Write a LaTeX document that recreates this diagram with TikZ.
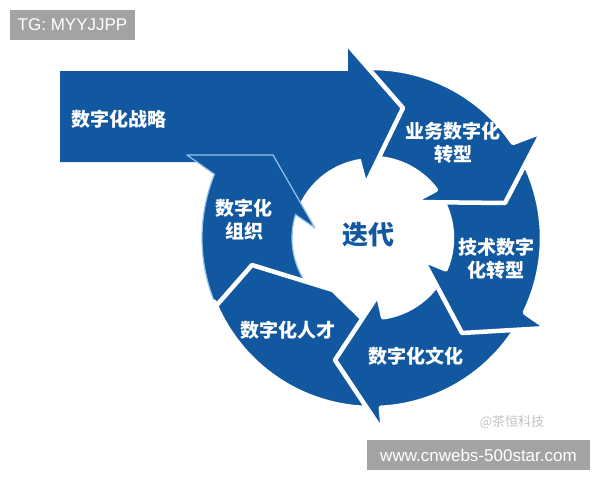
\documentclass[tikz,border=0pt]{standalone}
\usepackage{fontspec}
\setmainfont{Liberation Sans}
\newfontfamily\cjk{Noto Sans CJK SC}
\usetikzlibrary{calc}
\definecolor{ringblue}{RGB}{18,88,160}
\definecolor{boxgray}{RGB}{163,163,163}
\definecolor{wmgray}{RGB}{195,195,195}
\definecolor{seamblue}{RGB}{150,195,235}
\begin{document}
\begin{tikzpicture}[x=1pt,y=1pt,
  seg/.style={fill=ringblue, draw=white, line width=4.5pt, line join=round},
  lbl/.style={text=white, font=\cjk\bfseries\fontsize{19}{23}\selectfont, align=center, inner sep=0pt},
  centerlbl/.style={text=ringblue, font=\cjk\bfseries\fontsize{26}{30}\selectfont, inner sep=0pt},
  graybox/.style={fill=boxgray, text=white, inner sep=0pt, font=\fontsize{17}{17}\selectfont}]
\fill[white] (0,0) rectangle (600,-480);
\useasboundingbox (0,0) rectangle (600,-480);
\coordinate (C) at (372,-238);

% big arrow (strategy)
\fill[ringblue] (60,-71) -- (348,-71) -- (348,-45) -- (403,-108) -- (367,-182)
  -- ($(C)+(98:80)$) arc[start angle=98, end angle=165, radius=80]
  -- (220,-175) -- (199,-162) -- (60,-162) -- cycle;

% organisation
\draw[seg, draw=seamblue, line width=1.2pt] ($(C)+(205:170)$) arc[start angle=205, end angle=158, radius=170]
  -- (187,-155) -- (273,-155) -- (315,-228)
  -- ($(C)+(163:80)$) arc[start angle=163, end angle=215, radius=80] -- cycle;

% talent
\draw[seg] ($(C)+(-90.5:170)$) arc[start angle=-90.5, end angle=-158, radius=170]
  -- (195,-330) -- (252,-265) -- (333,-290)
  -- ($(C)+(-98:80)$) arc[start angle=-98, end angle=-90.5, radius=80] -- cycle;

% culture
\draw[seg] ($(C)+(-30:170)$) arc[start angle=-30, end angle=-87, radius=170]
  -- (383,-432) -- (335,-360) -- (378,-295)
  -- ($(C)+(-82:80)$) arc[start angle=-82, end angle=-30, radius=80] -- cycle;

% technology
\draw[seg] ($(C)+(30:170)$) arc[start angle=30, end angle=-26, radius=170]
  -- (547,-328) -- (462,-333) -- (423,-260)
  -- ($(C)+(-23:80)$) arc[start angle=-23, end angle=30, radius=80] -- cycle;

% business
\draw[seg] ($(C)+(93:170)$) arc[start angle=93, end angle=34, radius=170]
  -- (542,-132) -- (505,-203) -- (413,-202)
  -- ($(C)+(37:80)$) arc[start angle=37, end angle=93, radius=80] -- cycle;

% head of the big arrow on top
\fill[ringblue] (348,-45) -- (403,-108) -- (367,-182) -- cycle;
\draw[white, line width=4.5pt, line join=round] (348,-45) -- (403,-108) -- (367,-182);

% labels
\node[lbl] (lstrat) at (119,-119) {数字化战略};
\node[lbl] (lbiz) at (453,-143) {业务数字化\\转型};
\node[lbl] (ltech) at (496,-259) {技术数字\\化转型};
\node[lbl] (lcult) at (416,-356) {数字化文化};
\node[lbl] (ltal) at (288,-330) {数字化人才};
\node[lbl] (lorg) at (244,-220) {数字化\\组织};
\node[centerlbl] (liter) at (368,-235) {迭代};

% watermarks
\node[graybox, minimum width=125pt, minimum height=30pt] (tg) at (72.5,-25) {TG: MYYJJPP};
\node[graybox, minimum width=223pt, minimum height=30pt] (www) at (478.5,-455) {www.cnwebs-500star.com};
\node[text=wmgray, font=\cjk\fontsize{13}{13}\selectfont, inner sep=0pt] (wm) at (512,-422) {@茶恒科技};
\end{tikzpicture}
\end{document}
